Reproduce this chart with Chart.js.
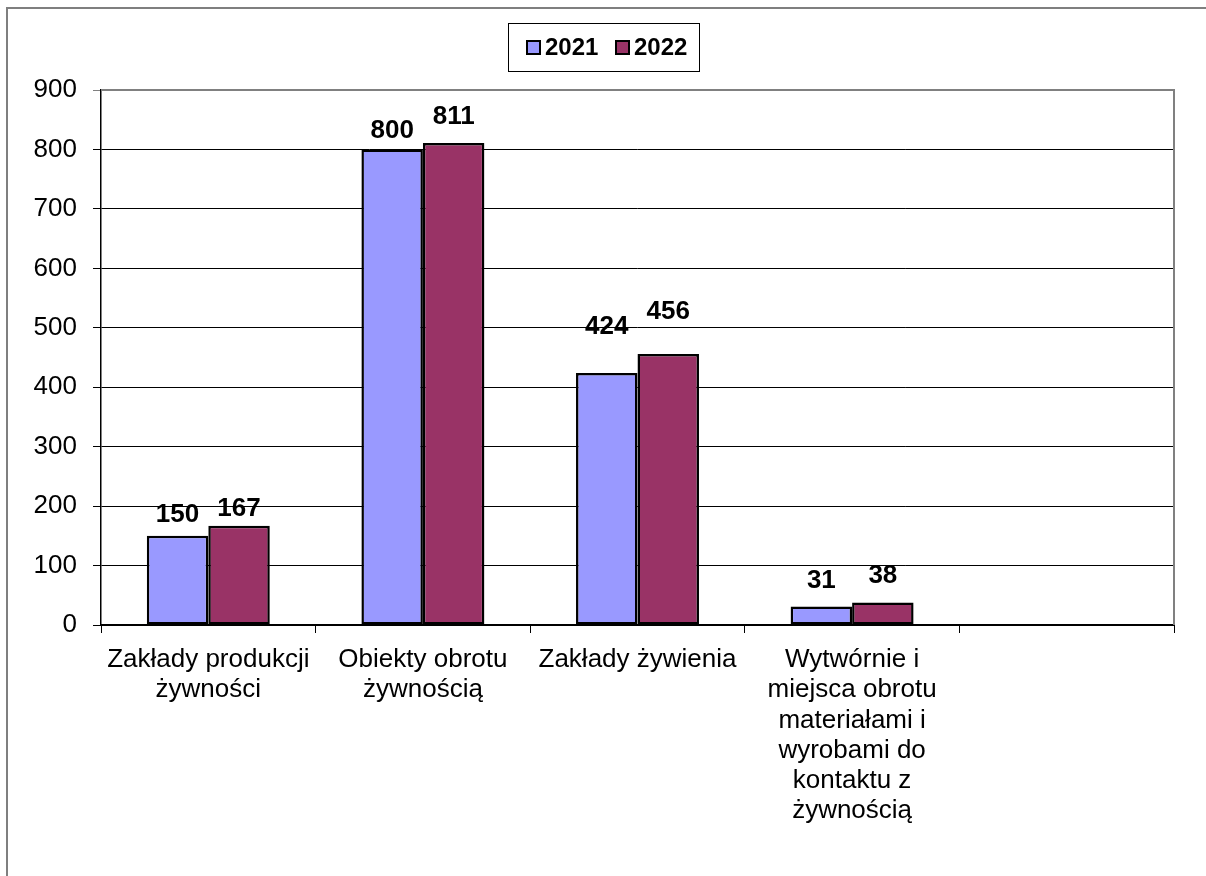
<!DOCTYPE html>
<html>
<head>
<meta charset="utf-8">
<script src="https://cdn.jsdelivr.net/npm/chart.js@4/dist/chart.umd.min.js"></script>
<style>
  html, body { margin: 0; padding: 0; background: #fff; }
  canvas { display: block; }
</style>
</head>
<body>
<canvas id="chart" width="1206" height="876"></canvas>
<script>
// data
const categories = [
  ['Zakłady produkcji', 'żywności'],
  ['Obiekty obrotu', 'żywnością'],
  ['Zakłady żywienia'],
  ['Wytwórnie i', 'miejsca obrotu', 'materiałami i', 'wyrobami do', 'kontaktu z', 'żywnością'],
  ['']
];
const seriesNames = ['2021', '2022'];
const values2021 = [150, 800, 424, 31, null];
const values2022 = [167, 811, 456, 38, null];
const yTicks = [0, 100, 200, 300, 400, 500, 600, 700, 800, 900];

const FONT = 'Arial, "Liberation Sans", sans-serif';

// frame, plot border, legend box
const decorations = {
  id: 'decorations',
  beforeDraw(chart) {
    const c = chart.ctx;
    c.save();
    c.strokeStyle = '#7f7f7f';
    c.lineWidth = 2;
    c.beginPath();
    c.moveTo(7, 876);
    c.lineTo(7, 8);
    c.lineTo(1206, 8);
    c.stroke();
    c.restore();
  },
  afterDraw(chart) {
    const a = chart.chartArea;
    const c = chart.ctx;
    c.save();
    c.strokeStyle = '#808080';
    c.lineWidth = 2;
    c.beginPath();
    c.moveTo(a.left, a.top);
    c.lineTo(a.right, a.top);
    c.lineTo(a.right, a.bottom);
    c.stroke();

    // legend
    c.strokeStyle = '#000';
    c.lineWidth = 1;
    c.strokeRect(508.5, 23.5, 191, 48);
    c.font = 'bold 24px ' + FONT;
    c.textBaseline = 'middle';
    c.fillStyle = '#000';
    const starts = [527, 616];
    chart.data.datasets.forEach((ds, i) => {
      const x = starts[i];
      c.fillStyle = ds.backgroundColor;
      c.fillRect(x, 41, 13, 13);
      c.strokeStyle = '#000';
      c.lineWidth = 2;
      c.strokeRect(x, 41, 13, 13);
      c.fillStyle = '#000';
      c.fillText(ds.label, x + 18, 48);
    });
    c.restore();
  }
};

// value labels above the bars (lift in px, per series)
const labelLift = [[21, 19, 46, 26, 0], [17, 26, 42, 27, 0]];
const valueLabels = {
  id: 'valueLabels',
  afterDatasetsDraw(chart) {
    const c = chart.ctx;
    c.save();
    c.font = 'bold 26px ' + FONT;
    c.fillStyle = '#000';
    c.textAlign = 'center';
    c.textBaseline = 'middle';
    chart.data.datasets.forEach((ds, i) => {
      chart.getDatasetMeta(i).data.forEach((bar, j) => {
        const v = ds.data[j];
        if (v == null) return;
        c.fillText(String(v), bar.x, bar.y - labelLift[i][j]);
      });
    });
    c.restore();
  }
};

new Chart(document.getElementById('chart'), {
  type: 'bar',
  data: {
    labels: categories,
    datasets: [
      {
        label: seriesNames[0],
        data: values2021,
        backgroundColor: '#9999FF',
        borderColor: '#000',
        borderWidth: 2.5,
        borderSkipped: false,
        categoryPercentage: 0.573,
        barPercentage: 1.0
      },
      {
        label: seriesNames[1],
        data: values2022,
        backgroundColor: '#993366',
        borderColor: '#000',
        borderWidth: 2.5,
        borderSkipped: false,
        categoryPercentage: 0.573,
        barPercentage: 1.0
      }
    ]
  },
  options: {
    responsive: false,
    animation: false,
    devicePixelRatio: 1,
    layout: { padding: { top: 90, right: 32, left: 0, bottom: 0 } },
    plugins: {
      legend: { display: false },
      tooltip: { enabled: false }
    },
    scales: {
      x: {
        afterFit(scale) { scale.height = 251; },
        grid: {
          offset: true,
          drawOnChartArea: false,
          drawTicks: true,
          tickLength: 8,
          color: '#000',
          lineWidth: 1
        },
        border: { color: '#000', width: 2 },
        ticks: {
          color: '#000',
          font: { family: FONT, size: 26, lineHeight: 1.16 },
          padding: 12,
          maxRotation: 0,
          autoSkip: false
        }
      },
      y: {
        min: 0,
        max: 900,
        afterFit(scale) { scale.width = 101; },
        afterBuildTicks(scale) { scale.ticks = yTicks.map(v => ({ value: v })); },
        grid: {
          color: ctx => (ctx.tick && ctx.tick.value === 900 ? '#808080' : '#000'),
          lineWidth: 1,
          tickLength: 8
        },
        border: { color: '#000', width: 1.5 },
        ticks: {
          color: '#000',
          font: { family: FONT, size: 26 },
          padding: 16
        }
      }
    }
  },
  plugins: [decorations, valueLabels]
});
</script>
</body>
</html>
